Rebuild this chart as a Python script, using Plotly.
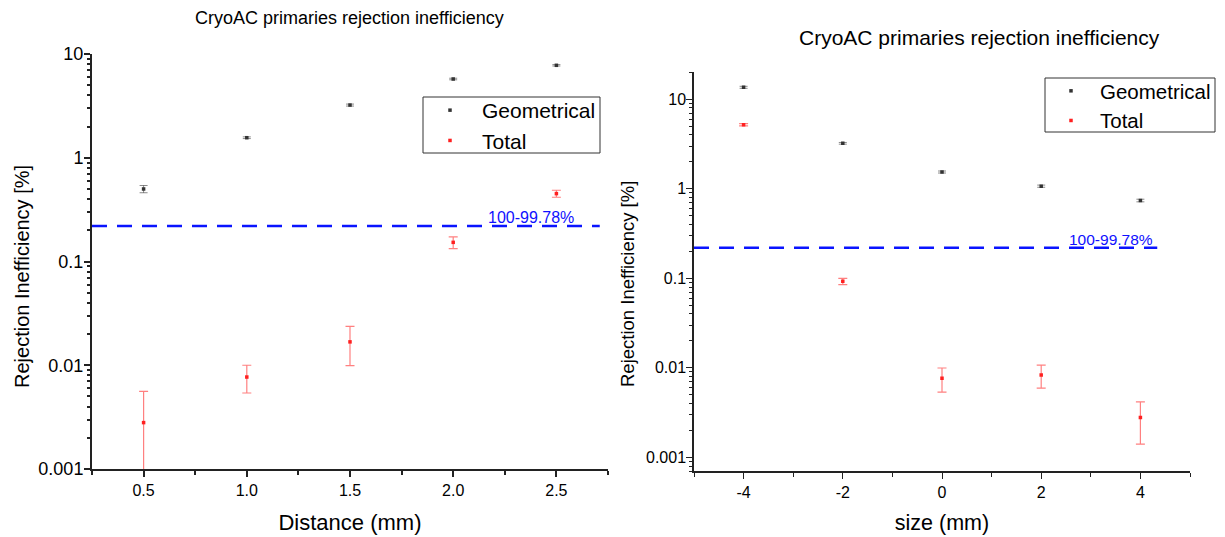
import math
import plotly.graph_objects as go

# ---------------- data ----------------
distance = [0.5, 1.0, 1.5, 2.0, 2.5]
dist_geom = [0.50, 1.56, 3.22, 5.74, 7.78]
dist_geom_err = [0.04, 0.03, 0.07, 0.10, 0.12]
dist_total = [0.0028, 0.0077, 0.0168, 0.153, 0.451]
dist_total_err = [0.0028, 0.0023, 0.0069, 0.020, 0.035]

size = [-4, -2, 0, 2, 4]
size_ticktext = ["-4", "-2", "0", "2", "4"]
size_geom = [13.6, 3.22, 1.54, 1.07, 0.74]
size_geom_err = [0.35, 0.07, 0.04, 0.03, 0.025]
size_total = [5.2, 0.0925, 0.00767, 0.00835, 0.00279]
size_total_err = [0.15, 0.0075, 0.0023, 0.0024, 0.00138]

threshold = 100 - 99.78
threshold_label = "100-99.78%"
title_text = "CryoAC primaries rejection inefficiency"
y_title = "Rejection Inefficiency [%]"

FONT = "Liberation Sans, Arial, sans-serif"
PAGE_W, PAGE_H = 1225, 537
OFF = 8  # default page body margin
W, H = PAGE_W - OFF, PAGE_H - OFF

def px(x):
    return (x - OFF) / W

def py(y):
    return 1 - (y - OFF) / H

fig = go.Figure()

geom_style = dict(mode="markers", marker=dict(color="#333333", size=3.5, symbol="square"))
tot_style = dict(mode="markers", marker=dict(color="#ff2020", size=3.5, symbol="square"))
geom_err = dict(color="rgba(60,60,60,0.6)", thickness=1, width=4)
tot_err = dict(color="rgba(255,60,60,0.65)", thickness=1.2, width=4.5)

# left panel
fig.add_trace(go.Scatter(x=distance, y=dist_geom, name="Geometrical",
                         error_y=dict(type="data", array=dist_geom_err, **geom_err),
                         xaxis="x", yaxis="y", legend="legend", **geom_style))
fig.add_trace(go.Scatter(x=distance, y=dist_total, name="Total",
                         error_y=dict(type="data", array=dist_total_err, **tot_err),
                         xaxis="x", yaxis="y", legend="legend", **tot_style))
# right panel
fig.add_trace(go.Scatter(x=size, y=size_geom, name="Geometrical",
                         error_y=dict(type="data", array=size_geom_err, **geom_err),
                         xaxis="x2", yaxis="y2", legend="legend2", **geom_style))
fig.add_trace(go.Scatter(x=size, y=size_total, name="Total",
                         error_y=dict(type="data", array=size_total_err, **tot_err),
                         xaxis="x2", yaxis="y2", legend="legend2", **tot_style))

# threshold lines
fig.add_shape(type="line", xref="x", yref="y", x0=0.25, x1=2.71, y0=threshold, y1=threshold,
              line=dict(color="#0a14ff", width=2.5, dash="15px,10px"))
fig.add_shape(type="line", xref="x2", yref="y2", x0=-5, x1=4.34, y0=threshold, y1=threshold,
              line=dict(color="#0a14ff", width=2.5, dash="15px,10px"))

# legend frames
fig.add_shape(type="rect", xref="paper", yref="paper", x0=px(423), x1=px(600), y0=py(153), y1=py(97),
              line=dict(color="#333333", width=1), fillcolor="white", layer="below")
fig.add_shape(type="rect", xref="paper", yref="paper", x0=px(1045), x1=px(1215), y0=py(132), y1=py(78),
              line=dict(color="#333333", width=1), fillcolor="white", layer="below")

lt = math.log10(threshold)
annotations = [
    dict(text=threshold_label, xref="x", yref="y", x=2.595, y=lt, xanchor="right",
         yanchor="bottom", showarrow=False, yshift=-2, font=dict(size=16, color="#1010ff", family=FONT)),
    dict(text=threshold_label, xref="x2", yref="y2", x=4.29, y=lt, xanchor="right",
         yanchor="bottom", showarrow=False, yshift=-2, font=dict(size=15.5, color="#1010ff", family=FONT)),
    dict(text=title_text, xref="paper", yref="paper", x=px(349), y=py(18), xanchor="center",
         yanchor="middle", showarrow=False, font=dict(size=18, color="black", family=FONT)),
    dict(text=title_text, xref="paper", yref="paper", x=px(979), y=py(38), xanchor="center",
         yanchor="middle", showarrow=False, font=dict(size=21, color="black", family=FONT)),
    dict(text=y_title, xref="paper", yref="paper", x=px(22), y=py(277), xanchor="center",
         yanchor="middle", textangle=-90, showarrow=False, font=dict(size=20, color="black", family=FONT)),
    dict(text=y_title, xref="paper", yref="paper", x=px(627), y=py(284), xanchor="center",
         yanchor="middle", textangle=-90, showarrow=False, font=dict(size=18.5, color="black", family=FONT)),
]

axis_common = dict(showline=True, linecolor="#222222", ticks="outside", tickcolor="#222222",
                   showgrid=False, zeroline=False, mirror=False, automargin=False)

fig.update_layout(
    template="none",
    width=W, height=H,
    margin=dict(l=0, r=0, t=0, b=0, autoexpand=False),
    paper_bgcolor="white", plot_bgcolor="white",
    font=dict(family=FONT, color="black"),
    annotations=annotations,
    xaxis=dict(domain=[px(92), px(608)], range=[0.25, 2.75], anchor="y",
               tickmode="linear", tick0=0.5, dtick=0.5, tickformat=".1f",
               linewidth=2, ticklen=6, tickwidth=1.5,
               tickfont=dict(size=16),
               minor=dict(ticks="outside", dtick=0.25, tick0=0.25, ticklen=4, tickcolor="#222222"),
               title=dict(text="Distance (mm)", font=dict(size=22), standoff=16),
               **axis_common),
    yaxis=dict(domain=[py(469), py(54)], type="log", range=[-3, 1], anchor="x",
               dtick=1, linewidth=2, ticklen=6, tickwidth=1.5,
               tickfont=dict(size=18), ticklabelstandoff=-3,
               minor=dict(ticks="outside", dtick="D1", ticklen=3, tickcolor="#222222"),
               **axis_common),
    xaxis2=dict(domain=[px(694), px(1190)], range=[-5, 5], anchor="y2",
                tickmode="array", tickvals=size, ticktext=size_ticktext,
                linewidth=1.5, ticklen=6, tickwidth=1.3,
                tickfont=dict(size=16),
                minor=dict(ticks="outside", dtick=1, tick0=1, ticklen=4, tickcolor="#222222"),
                title=dict(text="size (mm)", font=dict(size=21.5), standoff=15),
                **axis_common),
    yaxis2=dict(domain=[py(471.3), py(72.3)], type="log", range=[-3.155, 1.301], anchor="x2",
                dtick=1, linewidth=1.5, ticklen=6, tickwidth=1.3,
                tickfont=dict(size=16), ticklabelstandoff=-3,
                minor=dict(ticks="outside", dtick="D1", ticklen=3, tickcolor="#222222"),
                **axis_common),
    legend=dict(x=px(418), y=py(90), xanchor="left", yanchor="top",
                borderwidth=0, bgcolor="rgba(0,0,0,0)",
                font=dict(size=21), itemwidth=54, tracegroupgap=0),
    legend2=dict(x=px(1042), y=py(71), xanchor="left", yanchor="top",
                 borderwidth=0, bgcolor="rgba(0,0,0,0)",
                 font=dict(size=20.5), itemwidth=48, tracegroupgap=0),
    showlegend=True,
)

fig.write_html("out.html")
